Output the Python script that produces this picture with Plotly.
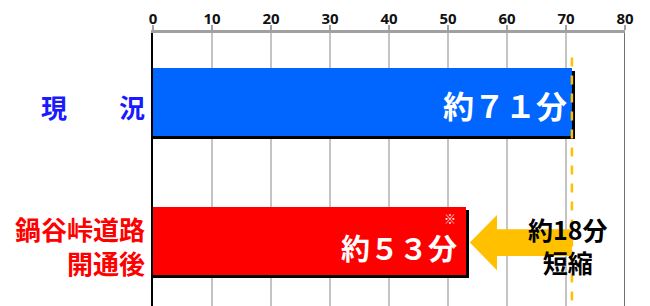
import plotly.graph_objects as go

# ---- data ----
categories = ["現　　況", "鍋谷峠道路<br>開通後"]
cat_colors = ["#1a1aff", "#ff0000"]
minutes = [71, 53]
bar_colors = ["#0066ff", "#ff0000"]
bar_labels = ["約７１分", "約５３分"]
saving_label = "約18分<br>短縮"
x_ticks = [0, 10, 20, 30, 40, 50, 60, 70, 80]

pos = list(range(len(categories)))
JP = "Noto Sans CJK JP"

fig = go.Figure()

# shadow bars
fig.add_trace(go.Bar(
    x=[v + 0.55 for v in minutes], y=[p + 0.025 for p in pos], orientation="h",
    width=0.49, marker=dict(color="#000000", line=dict(width=0)),
    hoverinfo="skip", showlegend=False))
# main bars
fig.add_trace(go.Bar(
    x=minutes, y=pos, orientation="h", width=0.49,
    marker=dict(color=bar_colors, line=dict(width=0)),
    showlegend=False))

# dashed reference line at current time
fig.add_trace(go.Scatter(
    x=[minutes[0], minutes[0]], y=[-0.32, 1.6], mode="lines",
    line=dict(color="#ffc000", width=2.5, dash="dash"),
    hoverinfo="skip", showlegend=False))

# arrow polygon from current time to new time
tip = minutes[1] + 0.7
head_base = tip + 4.6
tail = minutes[0]
yc = pos[1] + 0.012
bh, hh = 0.097, 0.198
fig.add_trace(go.Scatter(
    x=[tip, head_base, head_base, tail, tail, head_base, head_base, tip],
    y=[yc, yc - hh, yc - bh, yc - bh, yc + bh, yc + bh, yc + hh, yc],
    mode="lines", fill="toself", fillcolor="#ffc000",
    line=dict(color="#ffc000", width=0),
    hoverinfo="skip", showlegend=False))

annotations = []
# category labels
for p, c, col in zip(pos, categories, cat_colors):
    annotations.append(dict(
        x=0, xref="paper", y=p + 0.03, yref="y", xanchor="right", yanchor="middle",
        xshift=-6, text="<b>" + c + "</b>", showarrow=False, align="right",
        font=dict(family=JP, size=26, color=col)))
# bar value labels
annotations.append(dict(
    x=minutes[0], y=pos[0] + 0.02, xanchor="right", yanchor="middle", xshift=-3,
    text="<b>" + bar_labels[0] + "</b>", showarrow=False,
    font=dict(family=JP, size=31, color="white")))
annotations.append(dict(
    x=minutes[1], y=pos[1] + 0.04, xanchor="right", yanchor="middle", xshift=-7,
    text="<b>" + bar_labels[1] + "</b>", showarrow=False,
    font=dict(family=JP, size=29, color="white")))
annotations.append(dict(
    x=minutes[1], y=pos[1] - 0.16, xanchor="right", yanchor="middle", xshift=-8,
    text="※", showarrow=False,
    font=dict(family=JP, size=12, color="white")))
# saving label
annotations.append(dict(
    x=minutes[0] - 0.7, y=pos[1] + 0.03, xanchor="center", yanchor="middle",
    text="<b>" + saving_label + "</b>", showarrow=False, align="center",
    font=dict(family=JP, size=25, color="#000000")))

# page body has an 8px margin, so margins are offset to compensate
fig.update_layout(
    width=650, height=306,
    margin=dict(l=145, r=33, t=25, b=8, pad=0, autoexpand=False),
    paper_bgcolor="white", plot_bgcolor="white",
    barmode="overlay", bargap=0,
    annotations=annotations,
    shapes=[dict(type="line", xref="x", yref="paper", x0=80, x1=80, y0=0, y1=1,
                 line=dict(color="#707070", width=2), layer="above")],
    xaxis=dict(range=[0, 80], side="top", tickvals=x_ticks, automargin=False,
               ticks="outside", ticklen=5, tickcolor="#a0a0a0", tickwidth=1.5,
               ticklabelstandoff=-5,
               showgrid=True, gridcolor="#c4c4c4", gridwidth=1.5,
               showline=True, linecolor="#a0a0a0", linewidth=2.5,
               zeroline=False, fixedrange=True,
               tickfont=dict(family="Noto Sans", size=15, color="#111111", weight="bold")),
    yaxis=dict(range=[1.468, -0.496], showticklabels=False, showgrid=False,
               automargin=False,
               zeroline=False, showline=True, linecolor="#000000", linewidth=1.5,
               ticks="", fixedrange=True),
)

fig.write_html("out.html")
